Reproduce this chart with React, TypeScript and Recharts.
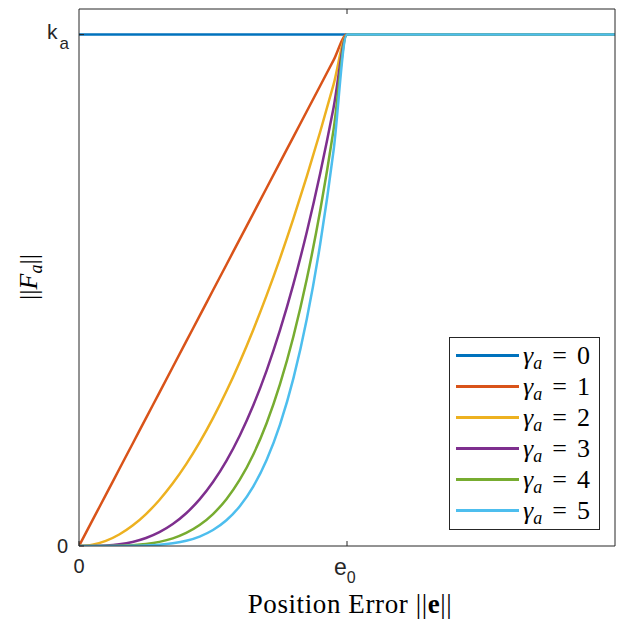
import React from 'react';
import { LineChart, Line, XAxis, YAxis, Label } from 'recharts';

// position error, in units of e0
const errors = [0, 0.05, 0.1, 0.15, 0.2, 0.25, 0.3, 0.35, 0.4, 0.45, 0.5, 0.55, 0.6, 0.65, 0.7, 0.75, 0.8, 0.85, 0.9, 0.95, 1, 2];

// force magnitude, in units of ka
const gamma0 = [1, 1, 1, 1, 1, 1, 1, 1, 1, 1, 1, 1, 1, 1, 1, 1, 1, 1, 1, 1, 1, 1];
const gamma1 = [0, 0.05, 0.1, 0.15, 0.2, 0.25, 0.3, 0.35, 0.4, 0.45, 0.5, 0.55, 0.6, 0.65, 0.7, 0.75, 0.8, 0.85, 0.9, 0.95, 1, 1];
const gamma2 = [0, 0.0025, 0.01, 0.0225, 0.04, 0.0625, 0.09, 0.1225, 0.16, 0.2025, 0.25, 0.3025, 0.36, 0.4225, 0.49, 0.5625, 0.64, 0.7225, 0.81, 0.9025, 1, 1];
const gamma3 = [0, 0.0001, 0.001, 0.0034, 0.008, 0.0156, 0.027, 0.0429, 0.064, 0.0911, 0.125, 0.1664, 0.216, 0.2746, 0.343, 0.4219, 0.512, 0.6141, 0.729, 0.8574, 1, 1];
const gamma4 = [0, 0, 0.0001, 0.0005, 0.0016, 0.0039, 0.0081, 0.015, 0.0256, 0.041, 0.0625, 0.0915, 0.1296, 0.1785, 0.2401, 0.3164, 0.4096, 0.522, 0.6561, 0.8145, 1, 1];
const gamma5 = [0, 0, 0, 0.0001, 0.0003, 0.001, 0.0024, 0.0053, 0.0102, 0.0185, 0.0313, 0.0503, 0.0778, 0.116, 0.1681, 0.2373, 0.3277, 0.4437, 0.5905, 0.7738, 1, 1];

const seriesNames = ['0', '1', '2', '3', '4', '5'];
const colors = ['#0072BD', '#D95319', '#EDB120', '#7E2F8E', '#77AC30', '#4DBEEE'];

const xTicks = [0, 1];
const yTicks = [0, 1];

const data = errors.map((e, i) => ({
  e,
  g0: gamma0[i],
  g1: gamma1[i],
  g2: gamma2[i],
  g3: gamma3[i],
  g4: gamma4[i],
  g5: gamma5[i],
}));

const axisColor = '#262626';
const tickFont = '"Liberation Sans", Arial, sans-serif';
const mathFont = '"Liberation Serif", "Times New Roman", serif';

const XTick = ({ x, y, payload }: any) => {
  const base = y - 8;
  return (
    <g>
      <line x1={x} x2={x} y1={base} y2={base - 5} stroke={axisColor} strokeWidth={1} />
      {payload.value === 0 ? (
        <text x={x} y={base + 27} textAnchor="middle" fill={axisColor} fontFamily={tickFont} fontSize={20}>0</text>
      ) : (
        <text x={x - 13} y={base + 29} fill={axisColor} fontFamily={tickFont} fontSize={23}>
          e<tspan fontSize={16} dy={8}>0</tspan>
        </text>
      )}
    </g>
  );
};

const TopTick = ({ x, y, payload }: any) => {
  const base = y + 8;
  if (payload.value !== 1) return null;
  return <line x1={x} x2={x} y1={base} y2={base + 5} stroke={axisColor} strokeWidth={1} />;
};

const YTick = ({ x, y, payload }: any) => {
  const base = x + 8;
  return (
    <g>
      <line x1={base} x2={base + 5} y1={y} y2={y} stroke={axisColor} strokeWidth={1} />
      {payload.value === 0 ? (
        <text x={base - 11} y={y + 7} textAnchor="end" fill={axisColor} fontFamily={tickFont} fontSize={20}>0</text>
      ) : (
        <text x={base - 10} y={y + 4} textAnchor="end" fill={axisColor} fontFamily={tickFont} fontSize={21}>
          k<tspan fontSize={17} dx={2} dy={10}>a</tspan>
        </text>
      )}
    </g>
  );
};

const RightTick = ({ x, y, payload }: any) => {
  const base = x - 8;
  if (payload.value !== 1) return null;
  return <line x1={base} x2={base - 5} y1={y} y2={y} stroke={axisColor} strokeWidth={1} />;
};

const LegendBox = () => (
  <div
    style={{
      position: 'absolute',
      left: 449,
      top: 337,
      width: 151,
      height: 193,
      border: '1px solid #262626',
      background: '#fff',
      padding: '2px 0 0 0',
      boxSizing: 'border-box',
    }}
  >
    {seriesNames.map((n, i) => (
      <div key={n} style={{ display: 'flex', alignItems: 'center', height: 31 }}>
        <div style={{ width: 63, height: 3, background: colors[i], marginLeft: 6, marginRight: 4 }} />
        <span style={{ fontFamily: mathFont, fontSize: 26, color: '#000', whiteSpace: 'nowrap' }}>
          <i>γ</i>
          <i style={{ fontSize: 18, position: 'relative', top: 5 }}>a</i>
          <span style={{ marginLeft: 10 }}>=</span>
          <span style={{ marginLeft: 10 }}>{n}</span>
        </span>
      </div>
    ))}
  </div>
);

export default function App() {
  return (
    <div style={{ position: 'fixed', left: 0, top: 0, width: 621, height: 623, background: '#fff' }}>
      <LineChart width={621} height={623} data={data} margin={{ top: 0, right: 0, bottom: 37, left: 29 }}>
        <XAxis
          dataKey="e"
          type="number"
          domain={[0, 2]}
          ticks={xTicks}
          tickLine={false}
          tickSize={0}
          tickMargin={8}
          height={40}
          stroke={axisColor}
          tick={<XTick />}
          allowDataOverflow
        >
          <Label
            content={() => (
              <text
                x={350}
                y={613}
                textAnchor="middle"
                fill="#000"
                fontFamily={mathFont}
                fontSize={27}
                letterSpacing={0.6}
              >
                Position Error ||<tspan fontWeight="bold">e</tspan>||
              </text>
            )}
          />
        </XAxis>
        <XAxis
          xAxisId="top"
          orientation="top"
          dataKey="e"
          type="number"
          domain={[0, 2]}
          ticks={xTicks}
          tickLine={false}
          tickSize={0}
          tickMargin={8}
          height={9}
          stroke={axisColor}
          tick={<TopTick />}
        />
        <YAxis
          type="number"
          domain={[0, 1.05]}
          ticks={yTicks}
          tickLine={false}
          tickSize={0}
          tickMargin={8}
          width={50}
          stroke={axisColor}
          tick={<YTick />}
          allowDataOverflow
        >
          <Label
            content={() => (
              <text
                x={37}
                y={277}
                transform="rotate(-90 37 277)"
                textAnchor="middle"
                fill="#000"
                fontFamily={mathFont}
                fontSize={26}
              >
                ||<tspan fontStyle="italic">F</tspan>
                <tspan fontStyle="italic" fontSize={18} dy={5}>a</tspan>
                <tspan dy={-5}>||</tspan>
              </text>
            )}
          />
        </YAxis>
        <YAxis
          yAxisId="right"
          orientation="right"
          type="number"
          domain={[0, 1.05]}
          ticks={yTicks}
          tickLine={false}
          tickSize={0}
          tickMargin={8}
          width={6}
          stroke={axisColor}
          tick={<RightTick />}
        />
        {seriesNames.map((n, i) => (
          <Line
            key={n}
            dataKey={`g${i}`}
            type="monotone"
            stroke={colors[i]}
            strokeWidth={2.5}
            dot={false}
            isAnimationActive={false}
          />
        ))}
      </LineChart>
      <LegendBox />
    </div>
  );
}
